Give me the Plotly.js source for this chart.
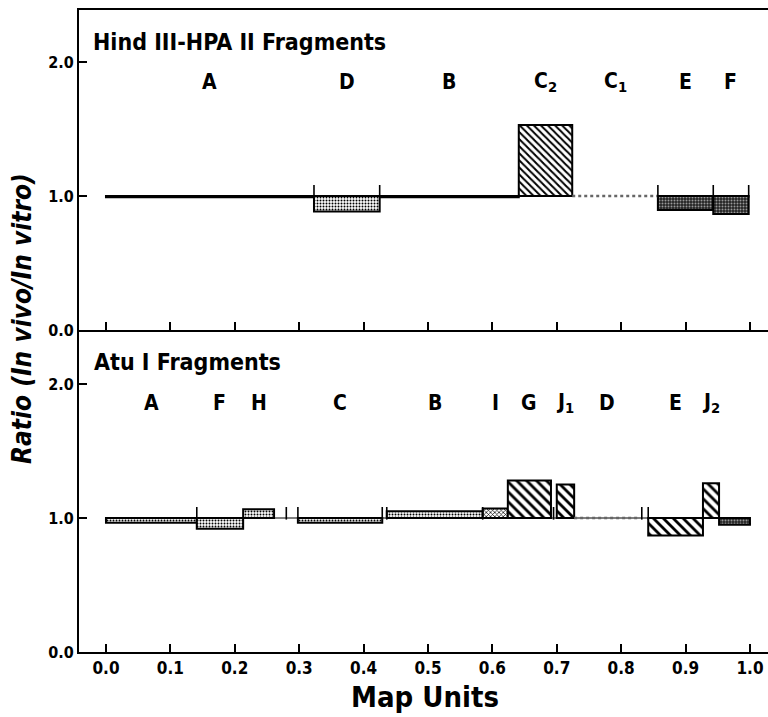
<!DOCTYPE html>
<html>
<head>
<meta charset="utf-8">
<script src="https://cdn.plot.ly/plotly-3.0.1.min.js"></script>
<style>html,body{margin:0;padding:0;background:#fff;}#chart{width:768px;height:717px;}</style>
</head>
<body>
<div id="chart"></div>
<script>
// ---- Data: Hind III - HPA II fragments (top panel)
const topNames = ['A', 'D', 'B', 'C<sub>2</sub>', 'C<sub>1</sub>', 'E', 'F'];
const topStart = [0.000, 0.323, 0.425, 0.641, 0.724, 0.857, 0.943];
const topEnd   = [0.323, 0.425, 0.641, 0.724, 0.857, 0.943, 0.998];
const topRatio = [0.99, 0.885, 0.99, 1.53, 1.00, 0.895, 0.866];
const topFill  = ['solid', 'light', 'solid', 'hatch', 'dotted', 'dark', 'dark'];
const topMarks = [0.323, 0.425, 0.857, 0.943, 0.998];

// ---- Data: Atu I fragments (bottom panel)
const botNames = ['A', 'F', 'H', 'C', 'B', 'I', 'G', 'J<sub>1</sub>', 'D', 'E', 'J<sub>2</sub>', ''];
const botStart = [0.000, 0.141, 0.213, 0.298, 0.436, 0.585, 0.624, 0.700, 0.727, 0.842, 0.927, 0.952];
const botEnd   = [0.141, 0.213, 0.261, 0.429, 0.585, 0.624, 0.691, 0.727, 0.829, 0.927, 0.952, 1.000];
const botRatio = [0.965, 0.92, 1.065, 0.965, 1.05, 1.07, 1.28, 1.25, 1.00, 0.87, 1.26, 0.95];
const botFill  = ['light', 'light', 'light', 'light', 'light', 'medium', 'hatch2', 'hatch2', 'dotted', 'hatch2', 'hatch2', 'dark'];
const botMarks = [0.141, 0.280, 0.298, 0.429, 0.436, 0.585, 0.695, 0.832, 0.842];

const xTicks = [0, 0.1, 0.2, 0.3, 0.4, 0.5, 0.6, 0.7, 0.8, 0.9, 1.0];
const xTickText = ['0.0', '0.1', '0.2', '0.3', '0.4', '0.5', '0.6', '0.7', '0.8', '0.9', '1.0'];
const yTicks = [0, 1, 2];
const yTickText = ['0.0', '1.0', '2.0'];

// ---- Styles
const FONT = "'Liberation Sans Narrow', 'DejaVu Sans Condensed', 'Roboto Condensed', 'Liberation Sans', sans-serif";
const fillStyles = {
  solid:  {color: '#000', pattern: {shape: ''}},
  light:  {color: '#fff', pattern: {shape: '.', fgcolor: '#000', bgcolor: '#fff', size: 3, solidity: 0.35, fillmode: 'replace'}},
  medium: {color: '#fff', pattern: {shape: 'x', fgcolor: '#000', bgcolor: '#fff', size: 3, solidity: 0.4, fillmode: 'replace'}},
  dark:   {color: '#333', pattern: {shape: '.', fgcolor: '#999', bgcolor: '#222', size: 3, solidity: 0.35, fillmode: 'replace'}},
  hatch:  {color: '#fff', pattern: {shape: '\\', fgcolor: '#000', bgcolor: '#fff', size: 5, solidity: 0.4, fillmode: 'replace'}},
  hatch2: {color: '#fff', pattern: {shape: '\\', fgcolor: '#000', bgcolor: '#fff', size: 7, solidity: 0.4, fillmode: 'replace'}}
};

const traces = [];
function addPanel(names, start, end, ratio, fill, marks, xa, ya) {
  Object.keys(fillStyles).forEach(function (kind) {
    const idx = [];
    fill.forEach(function (f, i) { if (f === kind) idx.push(i); });
    if (!idx.length) return;
    const st = fillStyles[kind];
    traces.push({
      type: 'bar', xaxis: xa, yaxis: ya,
      x: idx.map(i => start[i]),
      width: idx.map(i => end[i] - start[i]),
      offset: 0,
      base: 1.0,
      y: idx.map(i => ratio[i] - 1.0),
      marker: {color: st.color, pattern: st.pattern, line: {color: '#000', width: 2}},
      hoverinfo: 'skip', showlegend: false
    });
  });
  fill.forEach(function (f, i) {
    if (f !== 'dotted') return;
    traces.push({
      type: 'scatter', mode: 'lines', xaxis: xa, yaxis: ya,
      x: [start[i], end[i]], y: [ratio[i], ratio[i]],
      line: {color: '#666', width: 2.5, dash: 'dot'},
      hoverinfo: 'skip', showlegend: false
    });
  });
  traces.push({
    type: 'scatter', mode: 'markers', xaxis: xa, yaxis: ya,
    x: marks, y: marks.map(() => 1.035),
    marker: {symbol: 'line-ns-open', size: 9, color: '#000', line: {color: '#000', width: 1.6}},
    hoverinfo: 'skip', showlegend: false
  });
}
addPanel(topNames, topStart, topEnd, topRatio, topFill, topMarks, 'x2', 'y2');
addPanel(botNames, botStart, botEnd, botRatio, botFill, botMarks, 'x', 'y');

const annotations = [];
function labels(names, start, end, xa, ya, yv) {
  names.forEach(function (n, i) {
    if (!n) return;
    annotations.push({
      xref: xa, yref: ya, x: (start[i] + end[i]) / 2, y: yv,
      text: '<b>' + n + '</b>', showarrow: false, xanchor: 'center', yanchor: 'middle',
      font: {family: FONT, size: 21, color: '#000'}
    });
  });
}
labels(topNames, topStart, topEnd, 'x2', 'y2', 1.85);
labels(botNames, botStart, botEnd, 'x', 'y', 1.86);

annotations.push({
  xref: 'x2', yref: 'y2', x: -0.024, y: 2.15, xanchor: 'left', yanchor: 'middle',
  text: '<b>Hind III-HPA II Fragments</b>', showarrow: false,
  font: {family: FONT, size: 23, color: '#000'}
});
annotations.push({
  xref: 'x', yref: 'y', x: -0.022, y: 2.165, xanchor: 'left', yanchor: 'middle',
  text: '<b>Atu I Fragments</b>', showarrow: false,
  font: {family: FONT, size: 23, color: '#000'}
});
annotations.push({
  xref: 'paper', yref: 'paper', x: -0.083, y: 0.52, xanchor: 'center', yanchor: 'middle',
  textangle: -90, text: '<b><i>Ratio (In vivo/In vitro)</i></b>', showarrow: false,
  font: {family: FONT, size: 26, color: '#000'}
});
annotations.push({
  xref: 'paper', yref: 'paper', x: 0.502, y: -0.070, xanchor: 'center', yanchor: 'middle',
  text: '<b>Map Units</b>', showarrow: false,
  font: {family: FONT, size: 29, color: '#000'}
});

const axCommon = {
  range: [-0.0419, 1.028], showgrid: false, zeroline: false,
  showline: true, linecolor: '#000', linewidth: 2,
  tickmode: 'array', tickvals: xTicks, ticktext: xTickText,
  ticks: 'inside', ticklen: 8, tickwidth: 2, tickcolor: '#000'
};
const yCommon = {
  showgrid: false, zeroline: false, showline: true, linecolor: '#000', linewidth: 2,
  tickmode: 'array', tickvals: yTicks, ticktext: yTickText,
  ticks: 'inside', ticklen: 8, tickwidth: 2, tickcolor: '#000',
  tickfont: {family: FONT, size: 16, color: '#000', weight: 'bold'}
};

const layout = {
  width: 768, height: 717,
  margin: {l: 79, r: 0, t: 10, b: 65},
  paper_bgcolor: '#fff', plot_bgcolor: '#fff',
  barmode: 'overlay', showlegend: false,
  xaxis: Object.assign({}, axCommon, {anchor: 'y', showticklabels: true,
    tickfont: {family: FONT, size: 17, color: '#000', weight: 'bold'}}),
  xaxis2: Object.assign({}, axCommon, {anchor: 'y2', matches: 'x', showticklabels: false, mirror: true}),
  yaxis: Object.assign({}, yCommon, {domain: [0, 0.5016], range: [0, 2.403], anchor: 'x'}),
  yaxis2: Object.assign({}, yCommon, {domain: [0.5016, 1], range: [0, 2.388], anchor: 'x2'}),
  shapes: [{
    type: 'line', xref: 'x', yref: 'y', x0: botStart[0], x1: botEnd[botEnd.length - 1], y0: 1, y1: 1,
    line: {color: '#000', width: 1.2}, layer: 'below'
  }],
  annotations: annotations
};

Plotly.newPlot('chart', traces, layout, {displayModeBar: false, staticPlot: true});
</script>
</body>
</html>
